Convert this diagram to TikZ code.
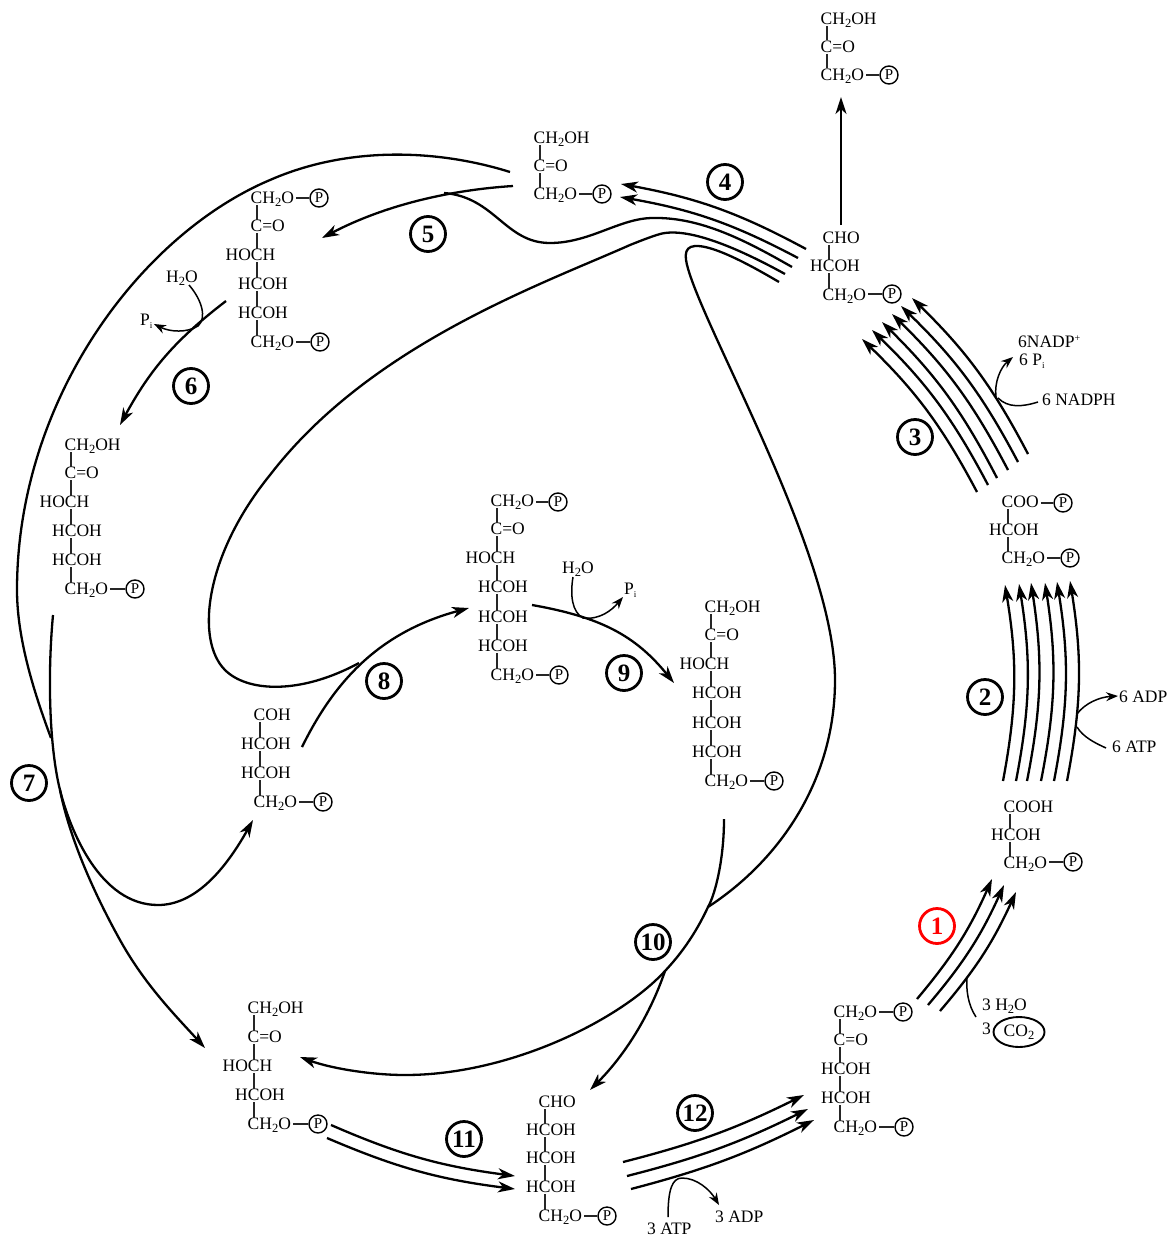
\documentclass[tikz,border=0pt]{standalone}
\usepackage{fontspec}
\setmainfont{Liberation Serif}
\usetikzlibrary{arrows.meta,shapes.geometric}
\newcommand\sbs[1]{\raisebox{-3.2pt}{\fontsize{12.5}{12.5}\selectfont #1}}
\newcommand\lCHOH{CH\sbs{2}OH}
\newcommand\lCHO{CH\sbs{2}O}
\newcommand\lCO{C=O}
\newcommand\lHOCH{HOCH}
\newcommand\lHCOH{HCOH}
\newcommand\lPi{P\raisebox{-3pt}{\fontsize{9}{9}\selectfont i}}
\tikzset{
  chem/.style={anchor=base west,inner sep=0pt,font=\fontsize{17.5}{20}\selectfont},
  bond/.style={line width=1.1pt,black!85},
  pcirc/.style={circle,draw,line width=1.4pt,minimum size=18pt,inner sep=0pt,font=\fontsize{15}{15}\selectfont},
  numc/.style={circle,draw,line width=2.8pt,minimum size=35pt,inner sep=0pt,font=\bfseries\fontsize{25}{25}\selectfont},
  mainline/.style={line width=2.3pt},
  mainarrow/.style={line width=2.3pt,-{Stealth[length=17pt,width=11pt,inset=5pt]}},
  sideline/.style={line width=1.5pt},
  sidearrow/.style={line width=1.5pt,-{Stealth[length=12pt,width=9pt,inset=4pt]}},
}
% name, bond column, lines offset/baseline/text
\newcommand\mol[3]{%
  \foreach \off/\yy/\txt [count=\i] in {#3} {
    \node[chem] (#1-\i) at (#2-6.5-\off,\yy-0.5) {\txt};
    \coordinate (#1-c\i) at (#2,\yy);
    \ifnum\i>1
      \pgfmathtruncatemacro\j{\i-1}
      \draw[bond] ([yshift=-1pt]#1-c\j) -- ([yshift=12.5pt]#1-c\i);
    \fi
  }%
}
% line node, phosphate node name, x, y
\newcommand\phos[4]{%
  \node[pcirc] (#2) at (#3,#4) {P};
  \draw[bond] ([xshift=2pt]#1.east |- #2.west) -- (#2.west);
}
\begin{document}
\begin{tikzpicture}[x=1pt,y=-1pt]
\useasboundingbox (0,0) rectangle (1175,1239);

% ---------- molecules
\mol{mtop}{827}{0/25/\lCHOH,0/53/\lCO,0/81/\lCHO}
\phos{mtop-3}{mtopp}{889}{75}
\mol{gap}{829}{0/244/CHO,12.5/272/\lHCOH,0/301/\lCHO}
\phos{gap-3}{gapp}{892}{294}
\mol{bpg}{1008}{0/508/COO,12.5/536/\lHCOH,0/564/\lCHO}
\phos{bpg-1}{bpgp}{1063}{503}
\phos{bpg-3}{bpgq}{1070}{558}
\mol{pga}{1010}{0/813/COOH,12.5/841/\lHCOH,0/869/\lCHO}
\phos{pga-3}{pgap}{1073}{862}
\mol{rubp}{840}{0/1018/\lCHO,0/1046/\lCO,12.5/1075/\lHCOH,12.5/1104/\lHCOH,0/1133/\lCHO}
\phos{rubp-1}{rubpp}{903}{1012}
\phos{rubp-5}{rubpq}{904}{1127}
\mol{r5p}{545}{0/1108/CHO,12.5/1136/\lHCOH,12.5/1164/\lHCOH,12.5/1193/\lHCOH,0/1222/\lCHO}
\phos{r5p-5}{r5pp}{607}{1216}
\mol{x5p}{254}{0/1014/\lCHOH,0/1043/\lCO,25/1072/\lHOCH,12.5/1101/\lHCOH,0/1130/\lCHO}
\phos{x5p-5}{x5pp}{318}{1124}
\mol{e4p}{260}{0/721/COH,12.5/750/\lHCOH,12.5/779/\lHCOH,0/808/\lCHO}
\phos{e4p-4}{e4pp}{323}{802}
\mol{sbp}{497}{0/507/\lCHO,0/535/\lCO,25/564/\lHOCH,12.5/593/\lHCOH,12.5/623/\lHCOH,12.5/652/\lHCOH,0/681/\lCHO}
\phos{sbp-1}{sbpp}{558}{502}
\phos{sbp-7}{sbpq}{559}{675}
\mol{s7p}{711}{0/613/\lCHOH,0/641/\lCO,25/670/\lHOCH,12.5/699/\lHCOH,12.5/729/\lHCOH,12.5/758/\lHCOH,0/787/\lCHO}
\phos{s7p-7}{s7pp}{774}{781}
\mol{fbp}{257}{0/204/\lCHO,0/232/\lCO,25/261/\lHOCH,12.5/290/\lHCOH,12.5/319/\lHCOH,0/348/\lCHO}
\phos{fbp-1}{fbpp}{319}{198}
\phos{fbp-6}{fbpq}{320}{342}
\mol{f6p}{71}{0/451/\lCHOH,0/479/\lCO,25/508/\lHOCH,12.5/537/\lHCOH,12.5/566/\lHCOH,0/595/\lCHO}
\phos{f6p-6}{f6pp}{135}{589}
\mol{dhap}{540}{0/144/\lCHOH,0/172/\lCO,0/200/\lCHO}
\phos{dhap-3}{dhapp}{602}{194}

% ---------- step numbers
\node[numc,draw=red,text=red] (n1) at (937,926) {1};
\node[numc] (n2) at (985,697) {2};
\node[numc] (n3) at (915,437) {3};
\node[numc] (n4) at (725,182) {4};
\node[numc] (n5) at (428,234) {5};
\node[numc] (n6) at (191,386) {6};
\node[numc] (n7) at (29,783) {7};
\node[numc] (n8) at (384,681) {8};
\node[numc] (n9) at (624,673) {9};
\node[numc] (n10) at (653,942) {10};
\node[numc] (n11) at (464,1139) {11};
\node[numc] (n12) at (695,1113) {12};

% ---------- cofactor labels
\node[chem] (adp6) at (1119,702) {6 ADP};
\node[chem] (atp6) at (1112,752) {6 ATP};
\node[chem] (nadp) at (1018,347) {6NADP\raisebox{6pt}{\fontsize{10}{10}\selectfont +}};
\node[chem] (pi3) at (1019,365) {6 \lPi};
\node[chem] (nadph) at (1042,405) {6 NADPH};
\node[chem] (h2o1) at (982,1010) {3 H\sbs{2}O};
\node[chem] (three) at (982,1034) {3};
\node[ellipse,draw,line width=1.9pt,minimum width=51pt,minimum height=30pt,inner sep=0pt,font=\fontsize{17.5}{20}\selectfont] (co2) at (1019,1032) {CO\sbs{2}};
\node[chem] (atp3) at (647,1234) {3 ATP};
\node[chem] (adp3) at (715,1222) {3 ADP};
\node[chem] (h2o6) at (166,282) {H\sbs{2}O};
\node[chem] (pi6) at (140,325) {\lPi};
\node[chem] (h2o9) at (562,573) {H\sbs{2}O};
\node[chem] (pi9) at (624,594) {\lPi};

% ---------- step 1
\foreach \ax/\ay/\bx/\by in {917/999/992/879,928/1005/1004/885,940/1011/1016/892}{
  \coordinate (s) at (\ax,\ay); \coordinate (t) at (\bx,\by);
  \draw[mainarrow] (s) to[bend right=8] (t);
}
\coordinate (co2in) at (976,1017);
\coordinate (co2j) at (967,977);
\draw[sideline] (co2in) .. controls (968,1005) and (966,990) .. (co2j);

% ---------- step 2
\foreach \ax/\ay/\bx/\by in {1003/781/1005/585,1016/781/1019/584,1027/781/1031/583,1041/781/1045/583,1054/781/1057/582,1067/781/1070/581}{
  \coordinate (s) at (\ax,\ay); \coordinate (t) at (\bx,\by);
  \draw[mainarrow] (s) to[bend right=10] (t);
}
\coordinate (j2a) at (1077,714);
\coordinate (j2b) at (1077,727);
\coordinate (adp6t) at (1118,696);
\coordinate (atp6s) at (1106,748);
\draw[sidearrow] (j2a) .. controls (1085,703) and (1100,697) .. (adp6t);
\draw[sideline] (atp6s) .. controls (1095,743) and (1083,737) .. (j2b);

% ---------- step 3
\foreach \ax/\ay/\bx/\by in {977/492/862/339,988/485/872/330,997/478/882/322,1008/470/892/314,1018/462/901/306,1028/454/912/298}{
  \coordinate (s) at (\ax,\ay); \coordinate (t) at (\bx,\by);
  \draw[mainarrow] (s) to[bend right=9] (t);
}
\coordinate (j3a) at (996,397);
\coordinate (j3b) at (998,398);
\coordinate (p3t) at (1013,357);
\coordinate (nadphs) at (1038,402);
\draw[sidearrow] (j3a) .. controls (994,382) and (1001,367) .. (p3t);
\draw[sideline] (nadphs) .. controls (1022,407) and (1008,408) .. (j3b);

% ---------- GAP to top product
\coordinate (g1) at (841,225);
\coordinate (g2) at (841,97);
\draw[mainarrow] (g1) -- (g2);

% ---------- step 4 and what leaves it
\foreach \ax/\ay/\bx/\by in {806/249/621/184,798/258/620/197}{
  \coordinate (s) at (\ax,\ay); \coordinate (t) at (\bx,\by);
  \draw[mainarrow] (s) to[bend right=9] (t);
}
\coordinate (w1) at (792,267);
\coordinate (w1e) at (444,193);
\draw[mainline] (w1) .. controls (745,240) and (700,217) .. (653,218)
  .. controls (620,218) and (590,243) .. (550,243)
  .. controls (505,243) and (495,197) .. (w1e);
\coordinate (w2) at (785,274);
\coordinate (w2e) at (359,663);
\draw[mainline] (w2) .. controls (745,252) and (690,226) .. (660,234)
  .. controls (650,237) and (640,241) .. (630,245)
  .. controls (540,285) and (370,345) .. (270,475)
  .. controls (205,555) and (195,640) .. (225,670)
  .. controls (247,692) and (300,695) .. (w2e);
\coordinate (w3) at (779,282);
\coordinate (w3e) at (708,907);
\draw[mainline] (w3) .. controls (745,262) and (712,245) .. (695,246)
  .. controls (682,247) and (685,260) .. (690,275)
  .. controls (715,350) and (835,560) .. (835,680)
  .. controls (835,780) and (780,860) .. (w3e);

% ---------- step 5
\coordinate (d5) at (513,186);
\coordinate (d5t) at (322,238);
\draw[mainarrow] (d5) .. controls (450,190) and (385,205) .. (d5t);

% ---------- long curve from DHAP to step 7
\coordinate (d7) at (510,172);
\coordinate (d7e) at (51,738);
\draw[mainline] (d7) .. controls (440,150) and (350,145) .. (270,180)
  .. controls (140,235) and (17,400) .. (17,590)
  .. controls (17,640) and (35,695) .. (d7e);

% ---------- step 6
\coordinate (f6s) at (226,301);
\coordinate (f6t) at (120,425);
\draw[mainarrow] (f6s) to[bend right=12] (f6t);
\coordinate (h6s) at (189,285);
\coordinate (p6t) at (154,324);
\draw[sidearrow] (h6s) .. controls (202,300) and (207,318) .. (198,326)
  .. controls (187,333) and (170,332) .. (p6t);

% ---------- step 7
\coordinate (f7s) at (53,615);
\coordinate (f7j) at (60,790);
\coordinate (f7t) at (205,1048);
\coordinate (e4t) at (253,820);
\draw[mainarrow] (f7s) .. controls (47,680) and (50,750) .. (f7j)
  .. controls (70,840) and (95,895) .. (120,940)
  .. controls (145,985) and (175,1015) .. (f7t);
\draw[mainarrow] (f7j) .. controls (70,830) and (100,905) .. (158,905)
  .. controls (195,905) and (225,870) .. (e4t);

% ---------- step 8
\coordinate (e8s) at (302,747);
\coordinate (e8t) at (469,608);
\draw[mainarrow] (e8s) .. controls (335,680) and (380,632) .. (e8t);

% ---------- step 9
\coordinate (s9s) at (532,605);
\coordinate (s9t) at (674,683);
\draw[mainarrow] (s9s) .. controls (600,617) and (635,635) .. (s9t);
\coordinate (h9s) at (573,577);
\coordinate (p9t) at (623,597);
\draw[sidearrow] (h9s) .. controls (570,595) and (572,612) .. (583,618)
  .. controls (600,620) and (612,610) .. (p9t);

% ---------- step 10
\coordinate (s10) at (724,819);
\coordinate (j10) at (665,971);
\coordinate (x10t) at (300,1057);
\coordinate (r10t) at (590,1090);
\draw[mainarrow] (s10) .. controls (724,860) and (715,895) .. (708,907)
  .. controls (695,935) and (680,955) .. (j10)
  .. controls (620,1020) and (510,1075) .. (405,1075)
  .. controls (370,1075) and (330,1068) .. (x10t);
\draw[mainarrow] (j10) .. controls (650,1015) and (625,1055) .. (r10t);

% ---------- step 11
\foreach \ax/\ay/\bx/\by in {331/1125/515/1176,327/1138/515/1189}{
  \coordinate (s) at (\ax,\ay); \coordinate (t) at (\bx,\by);
  \draw[mainarrow] (s) to[bend right=8] (t);
}

% ---------- step 12
\foreach \ax/\ay/\bx/\by in {623/1162/804/1095,627/1176/808/1109,631/1189/814/1120}{
  \coordinate (s) at (\ax,\ay); \coordinate (t) at (\bx,\by);
  \draw[mainarrow] (s) to[bend right=6] (t);
}
\coordinate (a12s) at (668,1217);
\coordinate (a12t) at (719,1205);
\draw[sidearrow] (a12s) .. controls (668,1190) and (672,1178) .. (682,1178)
  .. controls (697,1178) and (710,1190) .. (a12t);
\end{tikzpicture}
\end{document}
